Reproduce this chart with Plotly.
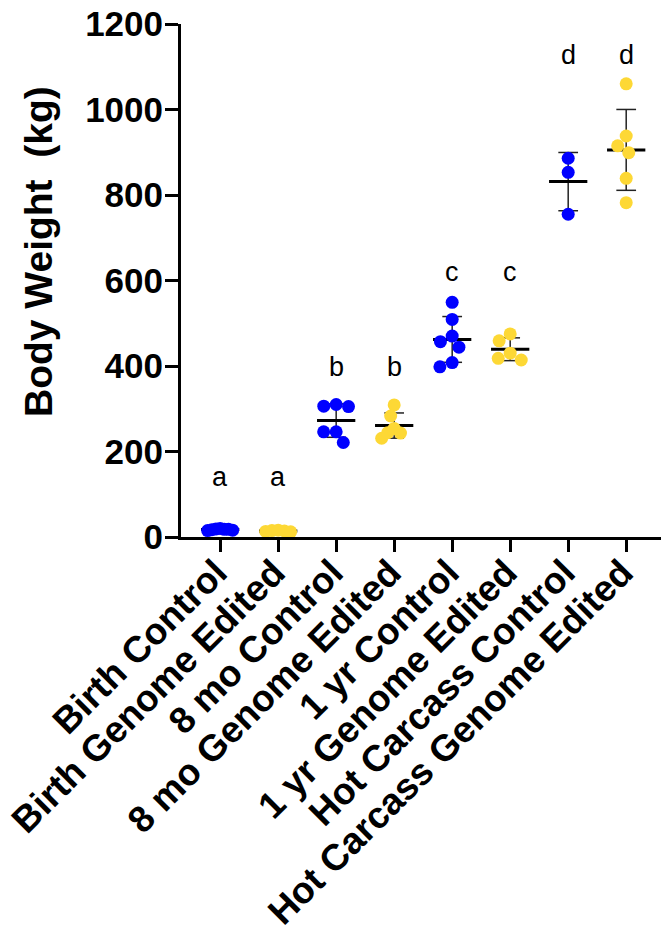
import numpy as np
import plotly.graph_objects as go

# ---------------- data ----------------
categories = ["Birth Control", "Birth Genome Edited", "8 mo Control", "8 mo Genome Edited",
              "1 yr Control", "1 yr Genome Edited", "Hot Carcass Control", "Hot Carcass Genome Edited"]
birth_control = [18, 20, 16, 19, 17, 15, 18]
birth_edited = [13, 15, 14, 16, 12]
mo8_control = [310, 305, 306, 246, 246, 221]
mo8_edited = [309, 283, 254, 231, 243, 244]
yr1_control = [549, 509, 470, 457, 444, 408, 398]
yr1_edited = [475, 459, 430, 414, 418]
hc_control = [886, 853, 755]
hc_edited = [1060, 938, 899, 915, 839, 782]
sig_letters = ["a", "a", "b", "b", "c", "c", "d", "d"]
letter_y = [141, 141, 397, 397, 620, 620, 1127, 1127]
y_tick_vals = [0, 200, 400, 600, 800, 1000, 1200]

groups = [birth_control, birth_edited, mo8_control, mo8_edited,
          yr1_control, yr1_edited, hc_control, hc_edited]

# ---------------- style / layout ----------------
W, H = 661, 932
ML, MR, MT, MB = 181, 0, 24, 395
X_RANGE = [-0.675, 7.6]
Y_RANGE = [0, 1200]
BLUE = "#0000FF"
YELLOW = "#FDD835"
colors = [BLUE, YELLOW] * 4
MARKER_D = 13
FONT = "Liberation Sans, Arial, sans-serif"

plot_w = W - ML - MR
plot_h = H - MT - MB
xs = plot_w / (X_RANGE[1] - X_RANGE[0])
ys = plot_h / (Y_RANGE[1] - Y_RANGE[0])


def beeswarm(vals, d=MARKER_D, max_half=12.5):
    """Place points so they don't overlap (pixel units), return offsets in category units."""
    order = np.argsort(vals)[::-1]
    placed = []
    offs = np.zeros(len(vals))
    for i in order:
        py = vals[i] * ys
        cands = [0.0]
        for (px_j, py_j) in placed:
            dy = py - py_j
            if abs(dy) < d:
                dx = np.sqrt(d * d - dy * dy)
                cands += [px_j + dx, px_j - dx]
        cands = sorted(set(cands), key=lambda c: (abs(c), c))
        for c in cands:
            ok = all((c - pj) ** 2 + (py - qj) ** 2 >= d * d - 1e-6 for pj, qj in placed)
            if ok:
                offs[i] = c
                placed.append((c, py))
                break
    m = np.max(np.abs(offs)) if len(offs) else 0
    if m > max_half:
        offs *= max_half / m
    return offs / xs


fig = go.Figure()

# error bars (mean +/- SD) and mean lines
for i, vals in enumerate(groups):
    v = np.array(vals, dtype=float)
    m = v.mean()
    sd = v.std(ddof=1)
    fig.add_trace(go.Scatter(x=[i, i], y=[m - sd, m + sd], mode="lines",
                             line=dict(color="#222222", width=1.5), hoverinfo="skip",
                             showlegend=False, cliponaxis=False))
    for yy in (m - sd, m + sd):
        fig.add_trace(go.Scatter(x=[i - 0.17, i + 0.17], y=[yy, yy], mode="lines",
                                 line=dict(color="#222222", width=1.5), hoverinfo="skip",
                                 showlegend=False, cliponaxis=False))
    fig.add_trace(go.Scatter(x=[i - 0.33, i + 0.33], y=[m, m], mode="lines",
                             line=dict(color="black", width=3), hoverinfo="skip",
                             showlegend=False, cliponaxis=False))

# points
for i, vals in enumerate(groups):
    offs = beeswarm(np.array(vals, dtype=float))
    fig.add_trace(go.Scatter(x=[i + o for o in offs], y=vals, mode="markers",
                             marker=dict(color=colors[i], size=MARKER_D, line=dict(width=0)),
                             name=categories[i], showlegend=False, cliponaxis=False))

# significance letters
for i, (lt, ly) in enumerate(zip(sig_letters, letter_y)):
    fig.add_annotation(x=i, y=ly, xref="x", yref="y", text=lt, showarrow=False,
                       font=dict(family=FONT, size=27, color="black"),
                       xanchor="center", yanchor="middle")

# y-axis title
fig.add_annotation(x=(38 - ML) / plot_w, y=(H - MB - 252) / plot_h, xref="paper", yref="paper",
                   text="<b>Body Weight\u00a0 (kg)</b>", textangle=-90, showarrow=False,
                   font=dict(family=FONT, size=39, color="black"),
                   xanchor="center", yanchor="middle")

fig.update_layout(
    width=W, height=H, template="none",
    margin=dict(l=ML, r=MR, t=MT, b=MB, pad=0),
    paper_bgcolor="white", plot_bgcolor="white",
    showlegend=False,
    xaxis=dict(range=X_RANGE, tickmode="array", tickvals=list(range(len(categories))),
               ticktext=[f"<b>{c}</b>" for c in categories], tickangle=-45,
               ticklabelstandoff=-16, ticklabelshift=-4,
               showline=True, linecolor="black", linewidth=3, mirror=False,
               ticks="outside", ticklen=12, tickwidth=3, tickcolor="black",
               showgrid=False, zeroline=False, automargin=False,
               tickfont=dict(family=FONT, size=37, color="black")),
    yaxis=dict(range=Y_RANGE, tickmode="array", tickvals=y_tick_vals,
               ticktext=[f"<b>{v}</b>" for v in y_tick_vals],
               ticklabelstandoff=-5,
               showline=True, linecolor="black", linewidth=3,
               ticks="outside", ticklen=13, tickwidth=3, tickcolor="black",
               showgrid=False, zeroline=False, automargin=False,
               tickfont=dict(family=FONT, size=35, color="black")),
)

fig.write_html("out.html", config={"displayModeBar": False},
               post_script="document.body.style.margin='0';document.body.style.padding='0';"
                           "document.body.style.overflow='hidden';")
